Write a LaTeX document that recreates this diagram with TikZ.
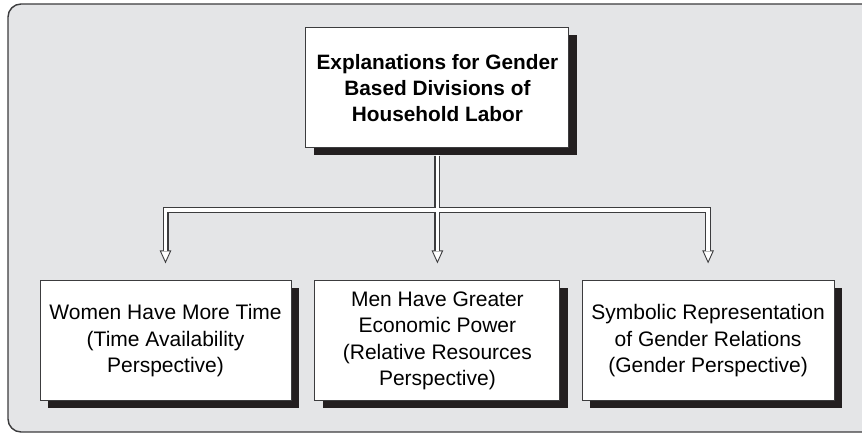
\documentclass[tikz,border=0pt]{standalone}
\usepackage{fontspec}
\setmainfont{Liberation Sans}
\usetikzlibrary{shadows, arrows.meta, positioning}

\definecolor{panelgray}{HTML}{E4E5E7}
\definecolor{edgegray}{HTML}{3C3C3E}
\definecolor{shadowblack}{HTML}{231F20}

\begin{document}
\begin{tikzpicture}[
    x=1pt, y=-1pt,
    box/.style={rectangle, draw=edgegray, line width=0.9pt, fill=white, align=center,
        minimum height=120.5pt, inner sep=0pt, font=\fontsize{21}{26.3}\selectfont,
        drop shadow={shadow xshift=8pt, shadow yshift=-7.5pt, fill=shadowblack, opacity=1}},
    pipeout/.style={draw=edgegray, line width=6pt, shorten <=8pt, shorten >=16.6pt,
        -{Triangle[length=13pt, width=11.5pt, line width=0.9pt, fill=white]}},
    pipein/.style={draw=white, line width=3.8pt, shorten <=7pt, shorten >=28.6pt}
]
    \useasboundingbox (0,0) rectangle (862,435);
    \draw[fill=panelgray, draw=edgegray, line width=1.4pt, rounded corners=13pt] (8,4) rectangle (890,432);

    \node[box, minimum width=263pt, font=\bfseries\fontsize{20.8}{26}\selectfont] (top) at (437.4,87.7)
        {Explanations for Gender\\Based Divisions of\\Household Labor};
    \node[box, minimum width=245pt, below=131.6pt of top] (power) {Men Have Greater\\Economic Power\\(Relative Resources\\Perspective)};
    \node[box, minimum width=251pt, left=23pt of power] (time) {Women Have More Time\\(Time Availability\\Perspective)};
    \node[box, minimum width=252pt, right=21.3pt of power] (symbol) {Symbolic Representation\\of Gender Relations\\(Gender Perspective)};

    % double pipes: dark pass first, then white core
    \foreach \b in {time, power, symbol}
        \draw[pipeout] (top.south) -- ++(0,62) -| (\b.north);
    \foreach \b in {time, power, symbol}
        \draw[pipein] (top.south) -- ++(0,62) -| (\b.north);
\end{tikzpicture}
\end{document}
